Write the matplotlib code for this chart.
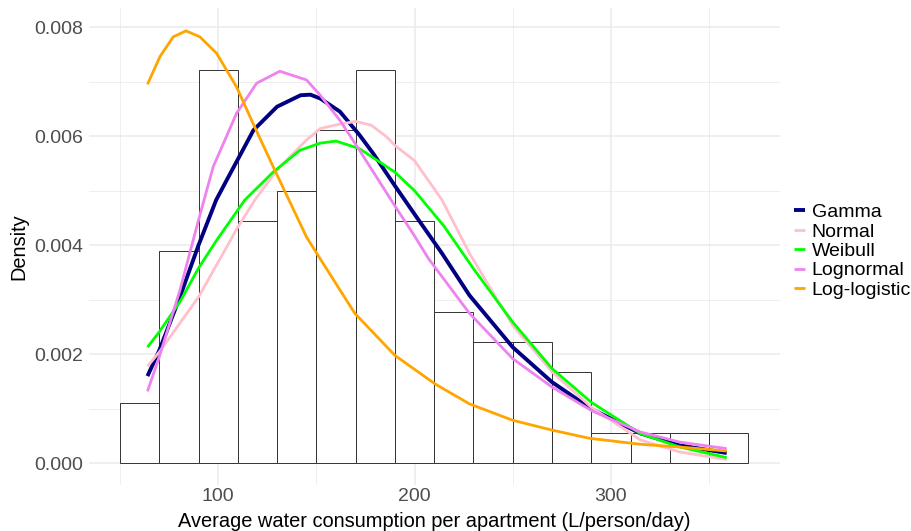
import numpy as np
import matplotlib
matplotlib.use("Agg")
import matplotlib.pyplot as plt
from matplotlib.ticker import MultipleLocator

plt.rcParams['font.family'] = ['Liberation Sans', 'DejaVu Sans']

# histogram: bin edges and densities
bin_edges = [50, 70, 90, 110, 130, 150, 170, 190, 210, 230, 250, 270, 290, 310, 330, 350, 370]
bar_density = [0.00111, 0.00389, 0.00722, 0.00444, 0.00500, 0.00611, 0.00722, 0.00444,
               0.00278, 0.00222, 0.00222, 0.00167, 0.00056, 0.00056, 0.00056, 0.00056]

# fitted densities (y in 1e-3)
gamma_x = [64, 70, 80.5, 90, 99, 104.3, 118, 130, 142, 147, 152, 162, 172, 179, 190, 200, 214, 228, 250, 270, 290, 315, 335, 359]
gamma_y = [1.60, 2.07, 3.05, 4.00, 4.83, 5.19, 6.11, 6.54, 6.75, 6.76, 6.69, 6.45, 6.02, 5.68, 5.09, 4.57, 3.85, 3.08, 2.13, 1.49, 1.00, 0.55, 0.33, 0.19]

normal_x = [64, 70, 90, 110, 118.7, 130, 145, 152, 162, 170, 178, 185.7, 190, 200, 214, 228, 250, 270, 290, 315, 335, 359]
normal_y = [1.78, 2.04, 3.05, 4.33, 4.83, 5.38, 5.93, 6.14, 6.22, 6.27, 6.20, 5.99, 5.83, 5.55, 4.83, 3.85, 2.53, 1.68, 1.03, 0.43, 0.21, 0.07]

weibull_x = [64, 70, 80.5, 90, 99.2, 113.6, 128, 141.6, 151.8, 160, 172, 190, 200, 215, 230, 250, 270, 290, 315, 335, 359]
weibull_y = [2.13, 2.41, 2.96, 3.58, 4.09, 4.83, 5.34, 5.74, 5.87, 5.91, 5.77, 5.34, 5.00, 4.35, 3.57, 2.59, 1.74, 1.12, 0.545, 0.30, 0.105]

lognorm_x = [64, 70, 80.5, 90, 97.5, 109.4, 119.6, 131.4, 145, 152, 162, 172, 190, 200, 207, 228, 250, 270, 290, 315, 335, 359]
lognorm_y = [1.32, 1.95, 3.17, 4.46, 5.44, 6.42, 6.97, 7.19, 7.03, 6.75, 6.29, 5.74, 4.72, 4.17, 3.76, 2.75, 1.92, 1.40, 0.97, 0.575, 0.39, 0.27]

loglog_x = [64, 70.4, 77.1, 83.6, 90.7, 99.2, 109.4, 117.8, 128, 145, 151.8, 169.6, 190, 210.3, 228, 250, 270, 289, 315, 335, 359]
loglog_y = [6.95, 7.46, 7.82, 7.93, 7.82, 7.52, 6.90, 6.23, 5.44, 4.15, 3.76, 2.75, 1.98, 1.46, 1.09, 0.79, 0.61, 0.46, 0.35, 0.30, 0.226]

fig = plt.figure(figsize=(9.12, 5.31), dpi=100)
ax = fig.add_axes([0.0971, 0.0866, 0.7579, 0.8984])

edges = np.array(bin_edges)
ax.bar(edges[:-1], bar_density, width=np.diff(edges), align='edge', color='white',
       edgecolor='#333333', linewidth=0.7, zorder=2)

curves = [
    (gamma_x, gamma_y, 'navy', 'Gamma', 2.8),
    (normal_x, normal_y, 'pink', 'Normal', 2.0),
    (weibull_x, weibull_y, '#00FF00', 'Weibull', 2.0),
    (lognorm_x, lognorm_y, 'violet', 'Lognormal', 2.0),
    (loglog_x, loglog_y, 'orange', 'Log-logistic', 2.0),
]
for cx, cy, col, lab, lw in curves:
    ax.plot(cx, np.array(cy) / 1000, color=col, lw=lw, label=lab, zorder=3,
            solid_capstyle='butt', solid_joinstyle='round')

ax.set_xlim(34, 386)
ax.set_ylim(-0.000397, 0.00835)
ax.xaxis.set_minor_locator(MultipleLocator(50))
ax.yaxis.set_minor_locator(MultipleLocator(0.001))
ax.set_yticks([0, 0.002, 0.004, 0.006, 0.008])
ax.set_yticklabels(['0.000', '0.002', '0.004', '0.006', '0.008'])
ax.set_xticks([100, 200, 300])
ax.set_xticklabels(['100', '200', '300'])

ax.grid(which='major', color='#EBEBEB', lw=1.1, zorder=0)
ax.grid(which='minor', color='#EBEBEB', lw=0.55, zorder=0)
ax.set_axisbelow(True)
for s in ax.spines.values():
    s.set_visible(False)
ax.tick_params(which='both', length=0)
ax.tick_params(axis='both', labelsize=14, labelcolor='#4D4D4D')
ax.tick_params(axis='x', pad=2)
ax.tick_params(axis='y', pad=4)

ax.set_xlabel('Average water consumption per apartment (L/person/day)', fontsize=14.4, labelpad=5)
ax.set_ylabel('Density', fontsize=14.4, labelpad=4)

fig.legend(loc='center left', bbox_to_anchor=(0.871, 0.527), frameon=False,
           fontsize=14, handlelength=0.55, handletextpad=0.35,
           labelspacing=0.09, borderpad=0, borderaxespad=0)

fig.savefig('out.png', dpi=100)
